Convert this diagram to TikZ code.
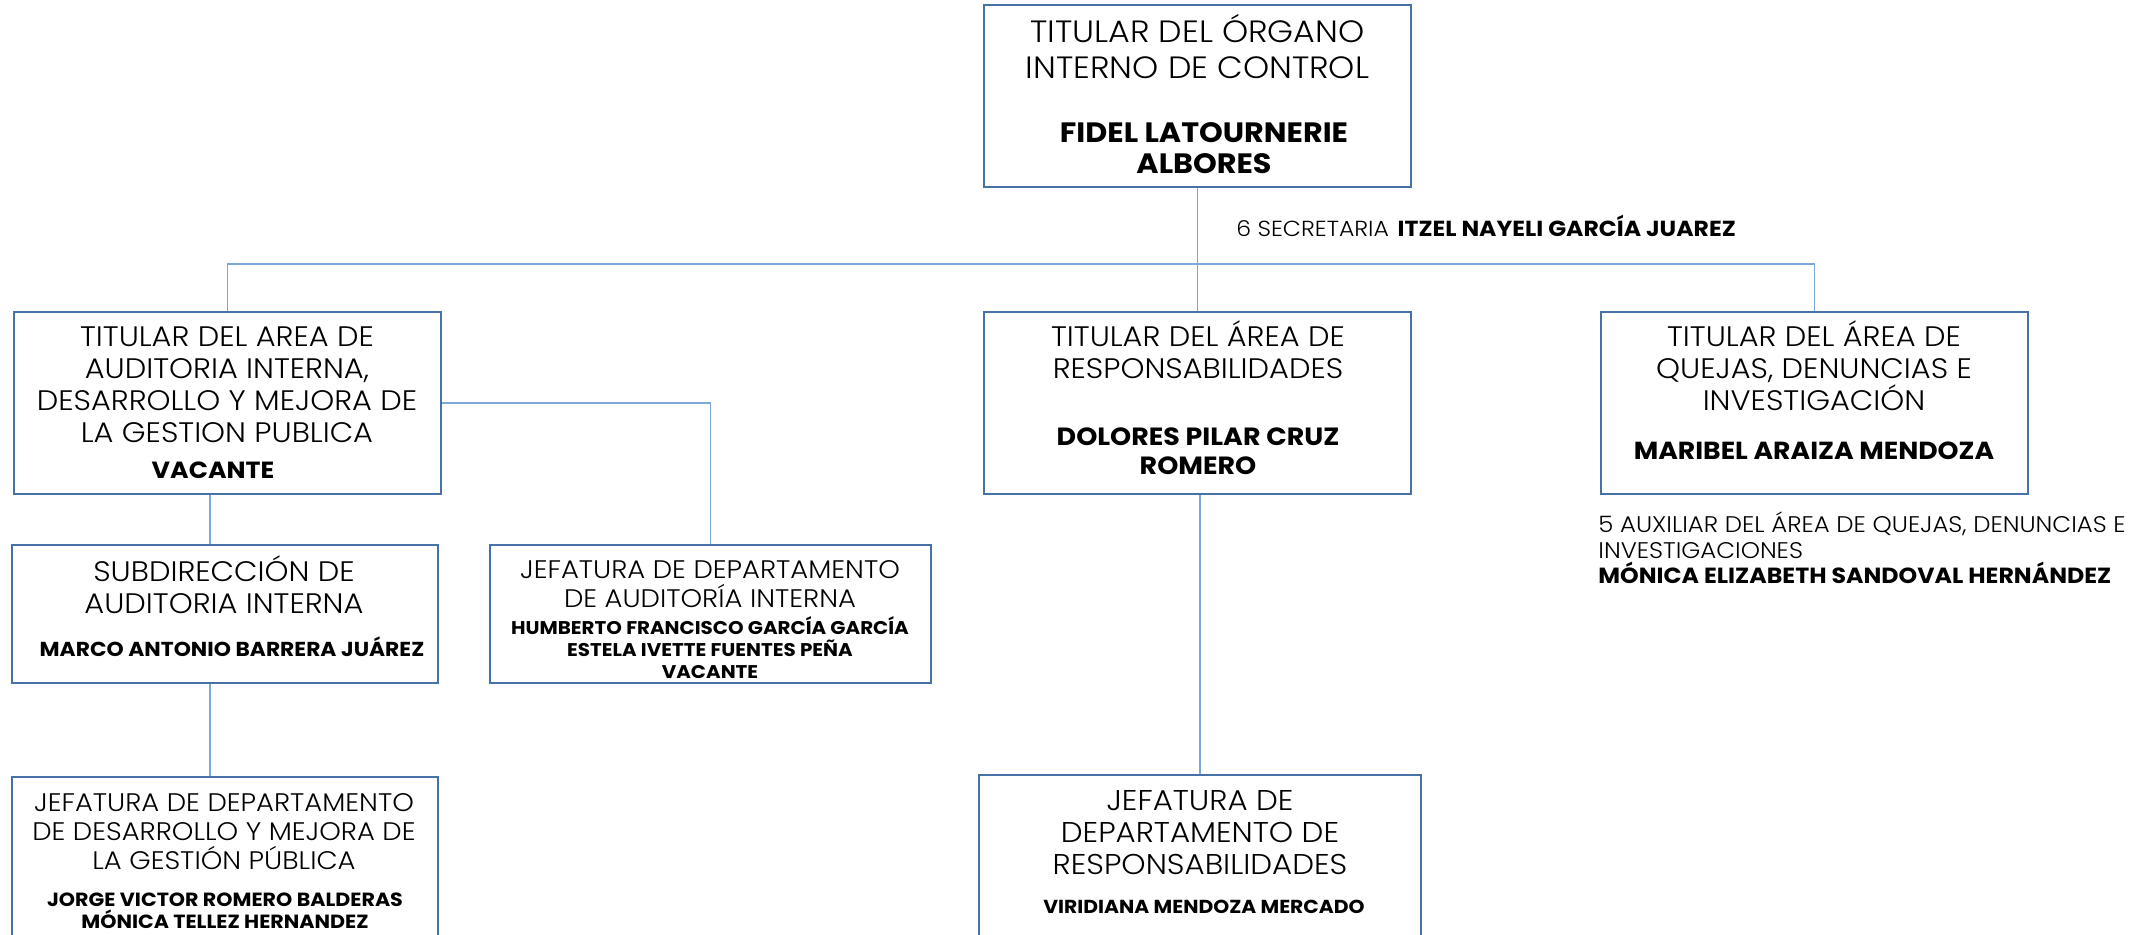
\documentclass[tikz,border=0pt]{standalone}
\usepackage{fontspec}
\setmainfont{Poppins}[UprightFont={* Light}, BoldFont={* Bold}, FakeStretch=1.08]
\definecolor{boxblue}{RGB}{70,114,168}
\definecolor{linkblue}{RGB}{125,168,218}
\tikzset{
  orgbox/.style={draw=boxblue, line width=1.4pt, rectangle, inner sep=0pt},
  conn/.style={draw=linkblue, line width=0.7pt},
  tx/.style={anchor=base, inner sep=0pt, text=black},
  txl/.style={anchor=base west, inner sep=0pt, text=black},
  fr/.style={font=\fontsize{#1}{#1}\selectfont},
  fb/.style={font=\fontsize{#1}{#1}\selectfont\bfseries},
}
\begin{document}
\begin{tikzpicture}[x=0.5pt,y=-0.5pt]
\clip (0,0) rectangle (2146,935);
\fill[white] (0,0) rectangle (2146,935);

% boxes
\node[orgbox, minimum width=213.5pt, minimum height=91pt] (top) at (1197.5,96) {};
\node[orgbox, minimum width=213.5pt, minimum height=91pt] (A) at (227.5,403) {};
\node[orgbox, minimum width=213.5pt, minimum height=91pt] (B) at (1197.5,403) {};
\node[orgbox, minimum width=213.5pt, minimum height=91pt] (C) at (1814.5,403) {};
\node[orgbox, minimum width=213pt, minimum height=69pt] (sub) at (225,614) {};
\node[orgbox, minimum width=220.5pt, minimum height=69pt] (jaud) at (710.5,614) {};
\node[orgbox, minimum width=213pt, minimum height=111.5pt] (jdes) at (225,888.5) {};
\node[orgbox, minimum width=221pt, minimum height=112.5pt] (jresp) at (1200,887.5) {};

% connectors
\coordinate (bus) at (1197.5,264);
\coordinate (lk) at (210,600);
\draw[conn] (top.south) -- (B.north);
\draw[conn] (A.north) |- (bus) -| (C.north);
\draw[conn] (A.east) -| (jaud.north);
\draw[conn] (A.south -| lk) -- (sub.north -| lk);
\draw[conn] (sub.south -| lk) -- (jdes.north -| lk);
\draw[conn] (B.south -| jresp.north) -- (jresp.north);

% top box
\node[tx, fr=15.4] (t1) at (1197.5,43) {TITULAR DEL ÓRGANO};
\node[tx, fr=15.4] (t2) at (1197.5,79) {INTERNO DE CONTROL};
\node[tx, fb=14] (t3) at (1204,143) {FIDEL LATOURNERIE};
\node[tx, fb=14] (t4) at (1204,174) {ALBORES};

% secretary
\node[txl, fr=10.9] (sec) at (1236,237) {6 SECRETARIA\hspace{0.4em}\textbf{ITZEL NAYELI GARCÍA JUAREZ}};

% box A
\node[tx, fr=14.1] (a1) at (227,347) {TITULAR DEL AREA DE};
\node[tx, fr=14.1] (a2) at (227,379) {AUDITORIA INTERNA,};
\node[tx, fr=14.1] (a3) at (227,411) {DESARROLLO Y MEJORA DE};
\node[tx, fr=14.1] (a4) at (227,443) {LA GESTION PUBLICA};
\node[tx, fb=11.7] (a5) at (213,478) {VACANTE};

% box B
\node[tx, fr=14.1] (b1) at (1198,347) {TITULAR DEL ÁREA DE};
\node[tx, fr=14.1] (b2) at (1198,379) {RESPONSABILIDADES};
\node[tx, fb=12.45] (b3) at (1198,445) {DOLORES PILAR CRUZ};
\node[tx, fb=12.45] (b4) at (1198,474) {ROMERO};

% box C
\node[tx, fr=14.1] (c1) at (1814,347) {TITULAR DEL ÁREA DE};
\node[tx, fr=14.1] (c2) at (1814,379) {QUEJAS, DENUNCIAS E};
\node[tx, fr=14.1] (c3) at (1814,411) {INVESTIGACIÓN};
\node[tx, fb=12.35] (c4) at (1814,459) {MARIBEL ARAIZA MENDOZA};

% auxiliar
\node[txl, fr=11.3] (x1) at (1598,532) {5 AUXILIAR DEL ÁREA DE QUEJAS, DENUNCIAS E};
\node[txl, fr=11.3] (x2) at (1598,558) {INVESTIGACIONES};
\node[txl, fb=10.97] (x3) at (1598,583) {MÓNICA ELIZABETH SANDOVAL HERNÁNDEZ};

% subdireccion
\node[tx, fr=14.1] (s1) at (224,581) {SUBDIRECCIÓN DE};
\node[tx, fr=14.1] (s2) at (224,613) {AUDITORIA INTERNA};
\node[tx, fb=10.1] (s3) at (232,656) {MARCO ANTONIO BARRERA JUÁREZ};

% jefatura auditoria
\node[tx, fr=12.7] (j1) at (710,578) {JEFATURA DE DEPARTAMENTO};
\node[tx, fr=12.7] (j2) at (710,607) {DE AUDITORÍA INTERNA};
\node[tx, fb=9.2] (j3) at (710,634) {HUMBERTO FRANCISCO GARCÍA GARCÍA};
\node[tx, fb=9.2] (j4) at (710,656) {ESTELA IVETTE FUENTES PEÑA};
\node[tx, fb=9.2] (j5) at (710,678) {VACANTE};

% jefatura desarrollo
\node[tx, fr=12.7] (d1) at (224,811) {JEFATURA DE DEPARTAMENTO};
\node[tx, fr=12.7] (d2) at (224,840) {DE DESARROLLO Y MEJORA DE};
\node[tx, fr=12.7] (d3) at (224,869) {LA GESTIÓN PÚBLICA};
\node[tx, fb=9.55] (d4) at (225,906) {JORGE VICTOR ROMERO BALDERAS};
\node[tx, fb=9.55] (d5) at (225,928) {MÓNICA TELLEZ HERNANDEZ};

% jefatura responsabilidades
\node[tx, fr=14.3] (r1) at (1200,810) {JEFATURA DE};
\node[tx, fr=14.3] (r2) at (1200,842) {DEPARTAMENTO DE};
\node[tx, fr=14.3] (r3) at (1200,874) {RESPONSABILIDADES};
\node[tx, fb=9.4] (r4) at (1204,913) {VIRIDIANA MENDOZA MERCADO};
\end{tikzpicture}
\end{document}
